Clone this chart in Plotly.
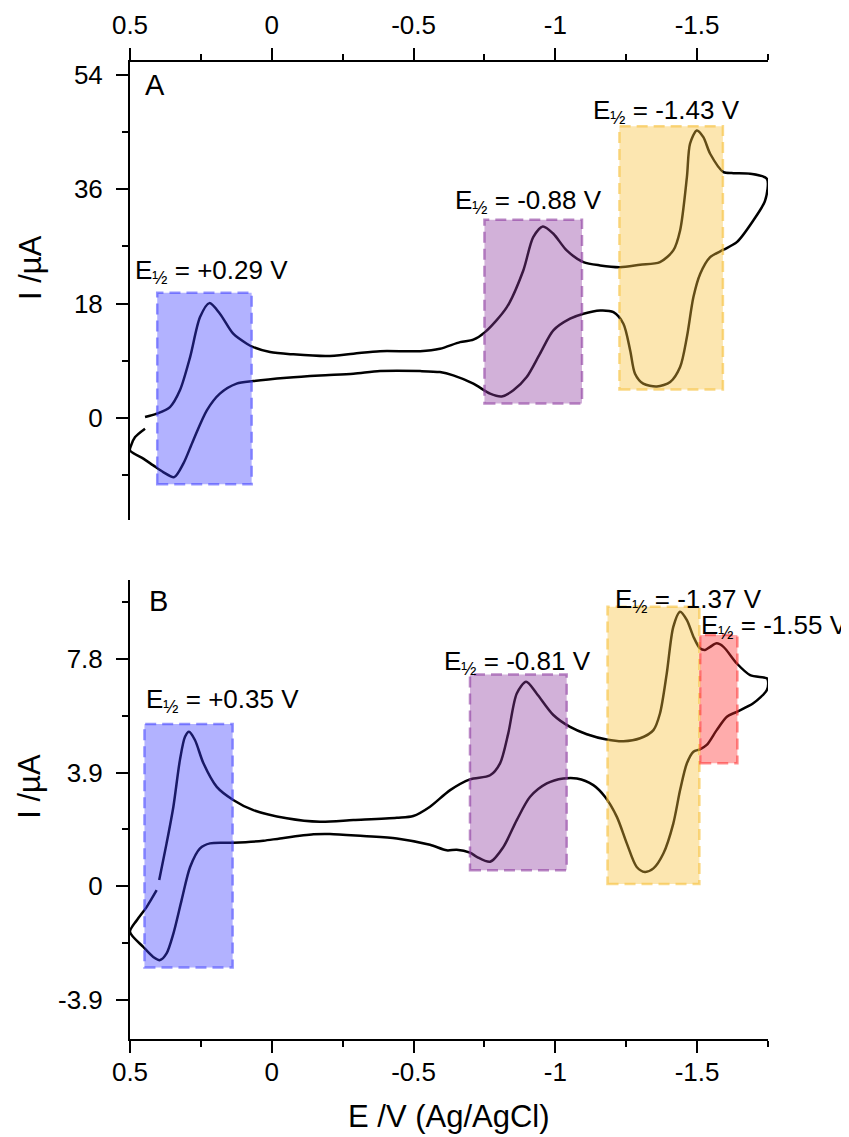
import plotly.graph_objects as go

# ---------------- data ----------------
E_A = [0.447, 0.406, 0.359, 0.324, 0.288, 0.253, 0.220, 0.183, 0.136, 0.088,
       0.065, 0.006, -0.076, -0.194, -0.288, -0.382, -0.523, -0.593, -0.664, -0.711,
       -0.752, -0.829, -0.887, -0.922, -0.956, -0.993, -1.040, -1.099, -1.158, -1.228,
       -1.299, -1.369, -1.416, -1.440, -1.464, -1.475, -1.499, -1.522, -1.546, -1.593,
       -1.628, -1.687, -1.746,
       -1.740, -1.698, -1.640, -1.593, -1.546, -1.511, -1.487, -1.464, -1.440, -1.405,
       -1.358, -1.310, -1.281, -1.264, -1.240, -1.205, -1.158, -1.099, -1.052, -0.993,
       -0.946, -0.899, -0.852, -0.811, -0.770, -0.711, -0.640, -0.593, -0.523, -0.382,
       -0.288, -0.170, -0.053, 0.065, 0.124, 0.183, 0.229, 0.277, 0.312, 0.344,
       0.383, 0.418, 0.453, 0.500,
       0.496, 0.482, 0.447]
I_A = [0.16, 0.69, 1.73, 4.36, 9.59, 15.88, 18.08, 16.42, 13.27, 11.70,
       11.16, 10.38, 10.02, 9.75, 10.13, 10.53, 10.53, 10.91, 11.95, 12.33,
       13.52, 17.45, 23.22, 28.46, 30.14, 28.99, 26.37, 24.53, 24.01, 23.74,
       24.12, 24.53, 26.37, 29.51, 37.89, 43.14, 45.24, 44.18, 41.57, 38.68,
       38.52, 38.43, 37.64,
       34.23, 31.08, 27.67, 26.48, 25.31, 22.70, 19.03, 12.74, 8.02, 5.66,
       4.98, 5.41, 6.98, 10.64, 14.84, 16.67, 16.93, 16.42, 15.63, 13.79,
       10.13, 6.45, 4.36, 3.41, 3.84, 5.41, 6.71, 7.23, 7.39, 7.39,
       6.98, 6.71, 6.35, 5.82, 5.41, 3.84, 1.21, -3.51, -7.17, -9.28,
       -8.49, -7.44, -6.38, -5.08,
       -4.29, -2.99, -1.67]

E_B = [0.397, 0.371, 0.347, 0.324, 0.306, 0.292, 0.271, 0.241, 0.194, 0.136,
       0.065, -0.053, -0.170, -0.288, -0.441, -0.499, -0.558, -0.629, -0.699, -0.770,
       -0.805, -0.834, -0.864, -0.897, -0.934, -0.993, -1.052, -1.111, -1.181, -1.240,
       -1.299, -1.346, -1.369, -1.393, -1.416, -1.440, -1.464, -1.487, -1.510, -1.528,
       -1.546, -1.569, -1.593, -1.640, -1.687, -1.746, -1.750,
       -1.746, -1.698, -1.640, -1.605, -1.569, -1.534, -1.510, -1.487, -1.464, -1.440,
       -1.416, -1.381, -1.346, -1.316, -1.287, -1.252, -1.217, -1.175, -1.134, -1.076,
       -1.028, -0.970, -0.911, -0.864, -0.817, -0.770, -0.723, -0.699, -0.652, -0.617,
       -0.558, -0.441, -0.323, -0.205, -0.147, -0.029, 0.030, 0.136, 0.218, 0.253,
       0.288, 0.318, 0.347, 0.371, 0.394, 0.418, 0.453, 0.500,
       0.476, 0.441, 0.406]
I_B = [0.21, 1.47, 2.73, 4.33, 5.13, 5.30, 5.02, 4.22, 3.41, 2.96,
       2.61, 2.33, 2.21, 2.27, 2.35, 2.41, 2.73, 3.30, 3.67, 3.81,
       4.22, 5.25, 6.62, 7.02, 6.62, 5.88, 5.47, 5.22, 5.04, 4.98,
       5.08, 5.36, 5.93, 7.31, 8.91, 9.43, 9.14, 8.57, 8.17, 8.11,
       8.22, 8.34, 8.22, 7.65, 7.25, 7.14, 7.05,
       6.74, 6.28, 5.99, 5.82, 5.36, 4.85, 4.70, 4.62, 4.22, 3.30,
       2.15, 1.12, 0.61, 0.49, 0.66, 1.47, 2.38, 3.07, 3.47, 3.70,
       3.70, 3.53, 3.07, 2.27, 1.35, 0.84, 1.01, 1.15, 1.25, 1.23,
       1.42, 1.64, 1.72, 1.79, 1.78, 1.64, 1.56, 1.49, 1.47, 1.30,
       0.66, -0.48, -1.63, -2.31, -2.54, -2.43, -2.09, -1.57,
       -1.17, -0.71, -0.14]

# highlighted potential windows: (E start, E end, I low, I high)
boxes_A = [(0.404, 0.071, -10.4, 19.7),
           (-0.750, -1.094, 2.3, 31.2),
           (-1.226, -1.591, 4.5, 45.9)]
boxes_B = [(0.449, 0.138, -2.79, 5.57),
           (-0.699, -1.040, 0.55, 7.27),
           (-1.184, -1.508, 0.07, 9.60),
           (-1.511, -1.642, 4.22, 8.63)]
labels_A = ["E<sub>½</sub> = +0.29 V", "E<sub>½</sub> = -0.88 V", "E<sub>½</sub> = -1.43 V"]
labels_B = ["E<sub>½</sub> = +0.35 V", "E<sub>½</sub> = -0.81 V", "E<sub>½</sub> = -1.37 V",
            "E<sub>½</sub> = -1.55 V"]
label_pos_A = [(0.489, 23.0), (-0.638, 34.1), (-1.125, 48.2)]
label_pos_B = [(0.451, 6.37), (-0.599, 7.67), (-1.205, 9.82), (-1.505, 8.91)]

x_ticks = [0.5, 0, -0.5, -1, -1.5]
x_ticktext = ["0.5", "0", "-0.5", "-1", "-1.5"]
x_minor = [0.25, -0.25, -0.75, -1.25, -1.75]
yA_ticks = [0, 18, 36, 54]
yA_minor = [-9, 9, 27, 45]
yB_ticks = [-3.9, 0, 3.9, 7.8]
yB_ticktext = ["-3.9", "0", "3.9", "7.8"]
yB_minor = [-1.95, 1.95, 5.85, 9.75]

# ---------------- styles ----------------
FONT = "Liberation Sans, Arial, sans-serif"
TICK_SIZE = 26
ANN_SIZE = 26
TITLE_SIZE = 31
fills_A = ["rgba(62,62,255,0.4)", "rgba(142,60,160,0.4)", "rgba(247,192,57,0.4)"]
edges_A = ["rgba(62,62,255,0.55)", "rgba(142,60,160,0.6)", "rgba(247,192,57,0.6)"]
fills_B = fills_A + ["rgba(255,48,48,0.4)"]
edges_B = edges_A + ["rgba(255,48,48,0.55)"]

fig = go.Figure()
fig.add_trace(go.Scatter(x=E_A, y=I_A, mode="lines", xaxis="x", yaxis="y",
                         line=dict(color="black", width=2.5, shape="spline", smoothing=0.8),
                         showlegend=False, hoverinfo="skip"))
fig.add_trace(go.Scatter(x=E_B, y=I_B, mode="lines", xaxis="x2", yaxis="y2",
                         line=dict(color="black", width=2.5, shape="spline", smoothing=0.8),
                         showlegend=False, hoverinfo="skip"))

shapes = []
for (x0, x1, y0, y1), fc, lc in zip(boxes_A, fills_A, edges_A):
    shapes.append(dict(type="rect", xref="x", yref="y", x0=x0, x1=x1, y0=y0, y1=y1,
                       fillcolor=fc, line=dict(color=lc, width=2.5, dash="11px,6px"),
                       layer="above"))
for (x0, x1, y0, y1), fc, lc in zip(boxes_B, fills_B, edges_B):
    shapes.append(dict(type="rect", xref="x2", yref="y2", x0=x0, x1=x1, y0=y0, y1=y1,
                       fillcolor=fc, line=dict(color=lc, width=2.5, dash="11px,6px"),
                       layer="above"))

annots = []
for t, (x, y) in zip(labels_A, label_pos_A):
    annots.append(dict(text=t, x=x, y=y, xref="x", yref="y", xanchor="left", yanchor="middle",
                       showarrow=False, font=dict(family=FONT, size=ANN_SIZE, color="black")))
for t, (x, y) in zip(labels_B, label_pos_B):
    annots.append(dict(text=t, x=x, y=y, xref="x2", yref="y2", xanchor="left", yanchor="middle",
                       showarrow=False, font=dict(family=FONT, size=ANN_SIZE, color="black")))
annots.append(dict(text="A", x=0.412, y=52.4, xref="x", yref="y", showarrow=False,
                   xanchor="center", yanchor="middle", font=dict(family=FONT, size=29, color="black")))
annots.append(dict(text="B", x=0.401, y=9.8, xref="x2", yref="y2", showarrow=False,
                   xanchor="center", yanchor="middle", font=dict(family=FONT, size=29, color="black")))
for yy in (0.790, 0.259):
    annots.append(dict(text="I /µA", x=-0.157, y=yy, xref="paper", yref="paper", textangle=-90,
                       showarrow=False, xanchor="center", yanchor="middle",
                       font=dict(family=FONT, size=TITLE_SIZE, color="black")))
annots.append(dict(text="E /V (Ag/AgCl)", x=0.5, y=-0.079, xref="paper", yref="paper",
                   showarrow=False, xanchor="center", yanchor="middle",
                   font=dict(family=FONT, size=TITLE_SIZE, color="black")))

axis_common = dict(showline=True, linecolor="black", linewidth=2, ticks="outside",
                   ticklen=12, tickwidth=2, tickcolor="black", showgrid=False, zeroline=False,
                   automargin=False,
                   tickfont=dict(family=FONT, size=TICK_SIZE, color="black"))
minor_common = dict(tickmode="array", ticklen=6, tickwidth=2, tickcolor="black", ticks="outside")

# the page body adds an 8px offset, so the figure is 8px smaller and the margins shifted
fig.update_layout(
    width=841, height=1129,
    margin=dict(l=122, r=81, t=54, b=98, autoexpand=False),
    plot_bgcolor="white", paper_bgcolor="white",
    shapes=shapes, annotations=annots,
    xaxis=dict(axis_common, range=[0.5, -1.75], side="top", anchor="y",
               tickmode="array", tickvals=x_ticks, ticktext=x_ticktext, ticklabelstandoff=4,
               minor=dict(minor_common, tickvals=x_minor)),
    xaxis2=dict(axis_common, range=[0.5, -1.75], side="bottom", anchor="y2", matches="x",
                tickmode="array", tickvals=x_ticks, ticktext=x_ticktext, ticklabelstandoff=-3,
                minor=dict(minor_common, tickvals=x_minor)),
    yaxis=dict(axis_common, range=[-16, 56], domain=[0.5314, 1.0], anchor="x",
               tickmode="array", tickvals=yA_ticks, ticklabelstandoff=8,
               minor=dict(minor_common, tickvals=yA_minor)),
    yaxis2=dict(axis_common, range=[-5.25, 10.5], domain=[0.0, 0.4693], anchor="x2",
                tickmode="array", tickvals=yB_ticks, ticktext=yB_ticktext, ticklabelstandoff=8,
                minor=dict(minor_common, tickvals=yB_minor)),
)

fig.write_html("out.html")
